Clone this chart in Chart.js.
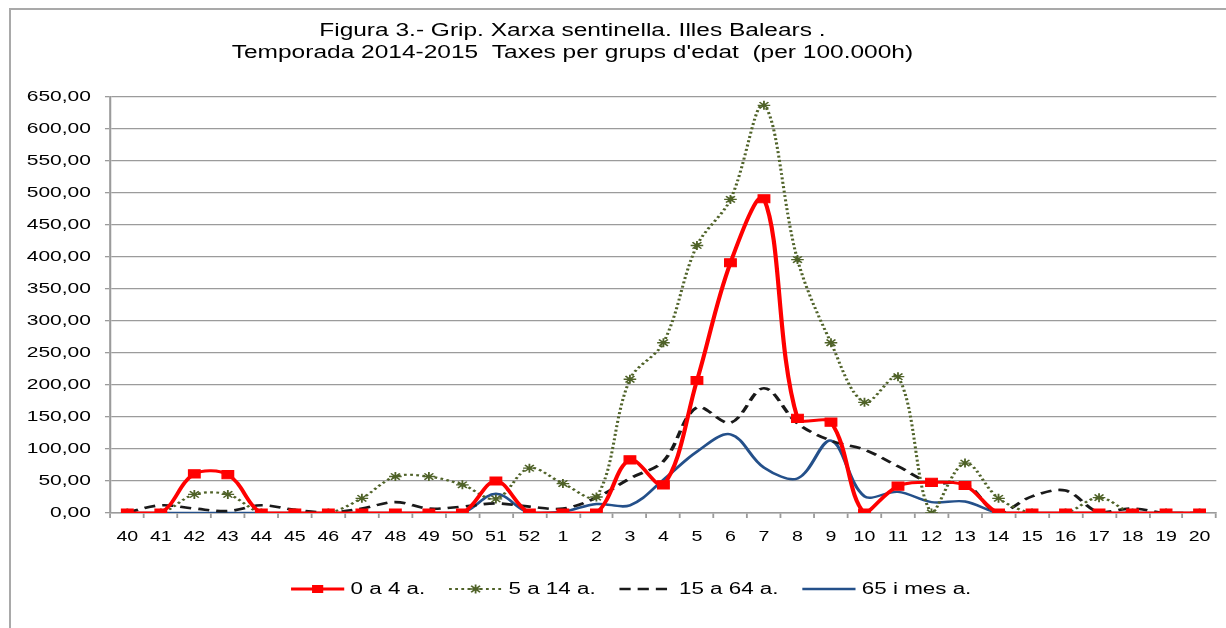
<!DOCTYPE html>
<html>
<head>
<meta charset="utf-8">
<script src="https://cdn.jsdelivr.net/npm/chart.js@4"></script>
<style>
  body { margin: 0; background: #fff; }
  canvas { position: absolute; left: 0; top: 0; }
  .marc { position: absolute; left: 9px; top: 8px; right: 0; bottom: 0;
          border-top: 2px solid #a9a9a9; border-left: 2px solid #a9a9a9; }
</style>
</head>
<body>
<canvas id="grip" width="876" height="628"></canvas>
<div class="marc"></div>
<script>
// setmanes epidemiologiques, temporada 2014-2015
const setmanes = ['40','41','42','43','44','45','46','47','48','49','50','51','52',
  '1','2','3','4','5','6','7','8','9','10','11','12','13','14','15','16','17','18','19','20'];

const edat0a4   = [0, 0, 61, 60, 0, 0, 0, 0, 0, 0, 0, 50, 0,
  0, 0, 83, 44, 207, 391, 491, 148, 142, 0, 42, 48, 43, 0, 0, 0, 0, 0, 0, 0];
const edat5a14  = [0, 0, 29, 29, 0, 0, 0, 23, 57, 57, 44, 22, 70,
  46, 25, 209, 266, 418, 490, 637, 396, 266, 173, 213, 0, 78, 23, 0, 0, 24, 0, 0, 0];
const edat15a64 = [1, 12, 7, 3, 12, 5, 1, 7, 17, 7, 10, 15, 10,
  7, 24, 54, 81, 165, 141, 195, 140, 113, 99, 73, 47, 46, 0, 26, 35, 1, 7, 0, 0];
const edat65    = [0, 0, 0, 0, 0, 0, 0, 0, 0, 0, 0, 30, 0,
  2, 14, 12, 52, 96, 123, 71, 54, 113, 26, 33, 17, 18, 0, 0, 0, 0, 0, 0, 0];

const marquesY = [0, 50, 100, 150, 200, 250, 300, 350, 400, 450, 500, 550, 600, 650];

const titol = ['Figura 3.- Grip. Xarxa sentinella. Illes Balears .',
  "Temporada 2014-2015  Taxes per grups d'edat  (per 100.000h)"];

const font = '"Liberation Sans", Arial, sans-serif';
Chart.defaults.font.family = font;
Chart.defaults.color = '#000';

const gris = '#9b9b9b';

// title, drawn by hand so it sits left of centre like the original
const titolPlugin = {
  id: 'titol',
  afterDraw(chart) {
    const ctx = chart.ctx;
    ctx.save();
    ctx.font = '17.5px ' + font;
    ctx.fillStyle = '#000';
    ctx.textAlign = 'center';
    ctx.textBaseline = 'middle';
    ctx.fillText(titol[0], 409, 31);
    ctx.fillText(titol[1], 409, 53);
    ctx.restore();
  }
};

// legend row: line sample + marker + text
const llegendaPlugin = {
  id: 'llegenda',
  afterDraw(chart) {
    const ctx = chart.ctx;
    const sets = chart.data.datasets;
    const lineW = 38, gapText = 4.5, gapItem = 17, y = 589;
    ctx.save();
    ctx.font = '16px ' + font;
    ctx.textBaseline = 'middle';
    let total = 0;
    sets.forEach(ds => { total += lineW + gapText + ctx.measureText(ds.label).width; });
    total += gapItem * (sets.length - 1);
    let x = 451 - total / 2;
    sets.forEach(ds => {
      ctx.strokeStyle = ds.borderColor;
      ctx.lineWidth = ds.borderWidth;
      ctx.setLineDash(ds.borderDash || []);
      ctx.beginPath();
      ctx.moveTo(x, y);
      ctx.lineTo(x + lineW, y);
      ctx.stroke();
      ctx.setLineDash([]);
      const cx = x + lineW / 2;
      if (ds.pointStyle === 'rect') {
        ctx.fillStyle = ds.pointBackgroundColor;
        ctx.fillRect(cx - 4, y - 4, 8, 8);
      } else if (ds.pointStyle === 'star') {
        const r = ds.pointRadius;
        ctx.strokeStyle = ds.pointBorderColor;
        ctx.lineWidth = ds.pointBorderWidth;
        ctx.beginPath();
        ctx.moveTo(cx - r, y); ctx.lineTo(cx + r, y);
        ctx.moveTo(cx, y - r); ctx.lineTo(cx, y + r);
        const d = r * Math.SQRT1_2;
        ctx.moveTo(cx - d, y - d); ctx.lineTo(cx + d, y + d);
        ctx.moveTo(cx - d, y + d); ctx.lineTo(cx + d, y - d);
        ctx.stroke();
      }
      ctx.fillStyle = '#000';
      ctx.fillText(ds.label, x + lineW + gapText, y + 1);
      x += lineW + gapText + ctx.measureText(ds.label).width + gapItem;
    });
    ctx.restore();
  }
};

const canvas = document.getElementById('grip');

const chart = new Chart(canvas, {
  type: 'line',
  data: {
    labels: setmanes,
    datasets: [
      {
        label: '0 a 4 a.',
        data: edat0a4,
        borderColor: '#ff0000',
        borderWidth: 3,
        pointStyle: 'rect',
        pointRadius: 5.8,
        pointBackgroundColor: '#ff0000',
        pointBorderColor: '#ff0000',
        pointBorderWidth: 1,
        tension: 0.35
      },
      {
        label: '5 a 14 a.',
        data: edat5a14,
        borderColor: '#4f6228',
        borderWidth: 2.2,
        borderDash: [2, 2.4],
        pointStyle: 'star',
        pointRadius: 4.5,
        pointBorderColor: '#4f6228',
        pointBorderWidth: 1.3,
        tension: 0.35
      },
      {
        label: '15 a 64 a.',
        data: edat15a64,
        borderColor: '#1a1a1a',
        borderWidth: 2.6,
        borderDash: [8, 5],
        pointRadius: 0,
        tension: 0.35
      },
      {
        label: '65 i mes a.',
        data: edat65,
        borderColor: '#24508a',
        borderWidth: 2.4,
        pointRadius: 0,
        tension: 0.35
      }
    ]
  },
  options: {
    responsive: false,
    animation: false,
    devicePixelRatio: 1,
    events: [],
    layout: { padding: { top: 97, right: 3, bottom: 84, left: 0 } },
    plugins: {
      legend: { display: false },
      title: { display: false },
      tooltip: { enabled: false }
    },
    scales: {
      x: {
        offset: true,
        grid: { drawOnChartArea: false, offset: true, tickLength: 5, color: gris, lineWidth: 1.3 },
        border: { color: gris, width: 1.5 },
        ticks: { font: { size: 14 }, padding: 11, maxRotation: 0, autoSkip: false },
        afterFit: s => { s.height = 31; }
      },
      y: {
        min: 0,
        max: 650,
        grid: { color: gris, lineWidth: 1.3, tickLength: 4 },
        border: { color: gris, width: 1.5 },
        ticks: {
          font: { size: 15 },
          padding: 10,
          callback: v => v.toFixed(2).replace('.', ',')
        },
        afterBuildTicks: s => { s.ticks = marquesY.map(v => ({ value: v })); },
        afterFit: s => { s.width = 79; }
      }
    }
  },
  plugins: [titolPlugin, llegendaPlugin]
});

// the original picture is stretched sideways; draw the same layout wider
const sx = 1226 / 876;
canvas.width = 1226;
canvas.style.width = '1226px';
canvas.style.height = '628px';
chart.ctx.setTransform(sx, 0, 0, 1, 0, 0);
chart.draw();
</script>
</body>
</html>
